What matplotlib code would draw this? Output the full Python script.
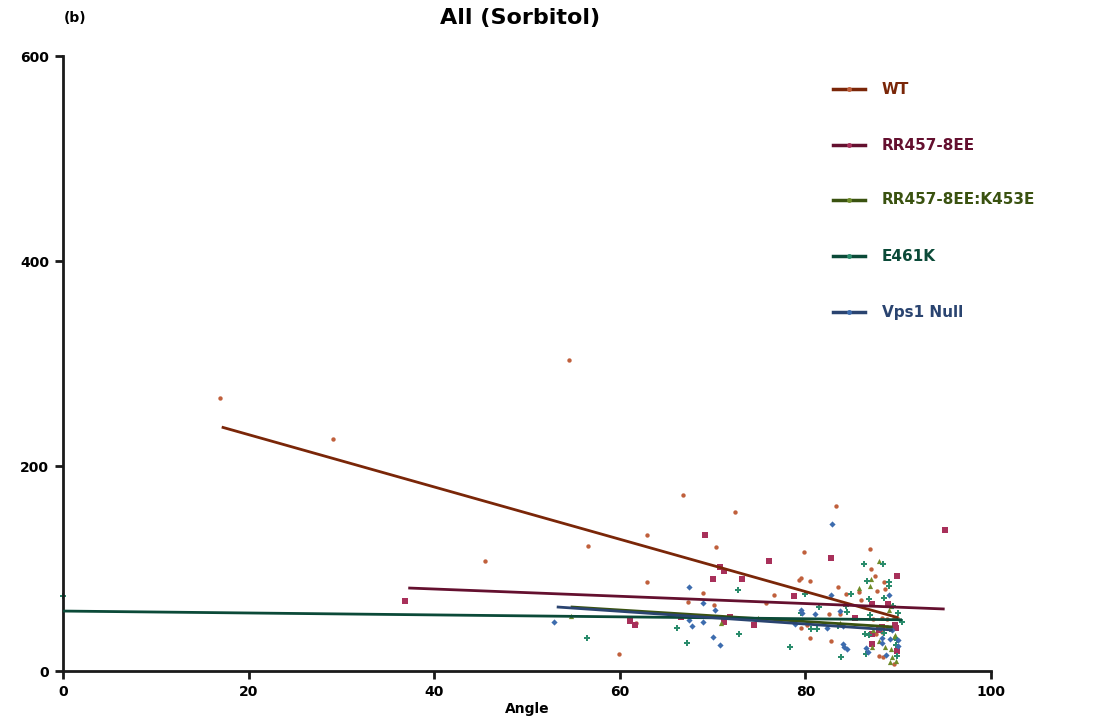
import matplotlib
matplotlib.use('Agg')
import matplotlib.pyplot as plt
from matplotlib.lines import Line2D

plt.rcParams['font.family'] = ['DejaVu Sans']

# ── groups ───────────────────────────────────────────────
labels = ['WT', 'RR457-8EE', 'RR457-8EE:K453E', 'E461K', 'Vps1 Null']
line_colors = ['#7a2608', '#64102f', '#3a5210', '#0b4a38', '#2a4470']
point_colors = ['#c0603c', '#a8305a', '#6f8c2a', '#2a8c6c', '#3d6cae']
markers = ['o', 's', '^', 'P', 'D']
sizes = [10, 16, 14, 14, 10]

# ── scatter data (angle, value) ───────────────────────────
wt_x = [16.9, 29.1, 54.5, 45.5, 56.6, 59.9, 62.9, 62.9, 66.8, 72.4, 83.3, 70.4,
        79.8, 87.0, 87.1, 87.5, 79.3, 79.5, 80.5, 83.5, 88.5, 88.6, 87.7, 69.0,
        76.6, 67.3, 70.2, 75.7, 84.4, 85.8, 86.0, 82.5, 83.7, 75.3, 61.7, 79.5,
        80.2, 80.5, 82.7, 87.3, 88.2, 88.8, 89.5, 89.9, 88.2, 88.8, 87.9, 88.4,
        89.5, 87.6]
wt_y = [266, 226, 303, 107, 122, 17, 133, 87, 172, 155, 161, 121,
        116, 119, 100, 93, 89, 91, 88, 82, 87, 80, 78, 76,
        74, 67, 64, 66, 75, 77, 69, 56, 56, 51, 47, 42,
        45, 32, 29, 51, 52, 51, 52, 52, 38, 43, 15, 14,
        7, 36]

rr_x = [95.0, 36.9, 69.2, 76.1, 82.8, 70.8, 71.2, 70.0, 73.2, 78.8, 89.9, 87.2,
        88.9, 85.3, 66.6, 61.1, 61.6, 71.2, 71.9, 74.5, 87.2, 87.2, 89.9, 89.7,
        89.8, 87.9, 88.3]
rr_y = [138, 68, 133, 107, 110, 101, 98, 90, 90, 73, 93, 65,
        65, 52, 53, 49, 45, 48, 53, 45, 36, 26, 20, 45,
        42, 40, 43]

rrk_x = [87.9, 87.1, 85.8, 87.0, 54.7, 70.9, 74.9, 83.7, 89.0, 89.2, 87.3, 89.7,
         87.2, 87.9, 88.6, 89.2, 89.3, 89.1, 89.8, 89.5]
rrk_y = [107, 90, 81, 83, 54, 47, 52, 47, 60, 63, 40, 35,
         23, 29, 23, 21, 14, 9, 10, 33]

e461k_x = [0.0, 56.5, 66.2, 67.2, 72.7, 72.8, 78.3, 80.0, 79.5, 81.5, 80.6, 81.2,
           86.3, 88.4, 86.6, 89.0, 89.0, 84.9, 86.9, 88.5, 89.4, 84.4, 84.5, 90.0,
           87.0, 90.4, 86.4, 86.9, 88.5, 89.9, 89.8, 86.5, 83.8, 89.9, 83.5, 89.1]
e461k_y = [73, 32, 42, 27, 79, 36, 23, 75, 57, 62, 41, 41,
           104, 104, 88, 87, 83, 75, 70, 71, 63, 63, 58, 57,
           55, 48, 36, 35, 37, 30, 25, 17, 14, 15, 44, 41]

vps_x = [52.9, 67.5, 69.0, 70.3, 67.4, 67.8, 69.0, 70.0, 70.8, 82.9, 79.5, 79.6,
         81.0, 78.9, 82.3, 82.7, 83.7, 84.0, 84.0, 84.2, 84.5, 86.5, 86.7, 89.0,
         88.3, 88.3, 89.1, 90.0, 90.0, 88.7, 89.3, 88.0]
vps_y = [48, 82, 66, 60, 50, 44, 48, 33, 25, 143, 60, 57,
         56, 46, 42, 74, 59, 44, 26, 23, 21, 22, 19, 74,
         32, 27, 31, 30, 24, 16, 40, 42]

xs = [wt_x, rr_x, rrk_x, e461k_x, vps_x]
ys = [wt_y, rr_y, rrk_y, e461k_y, vps_y]

# ── fitted regression lines (start/end) ───────────────────
fit_x = [[17.1, 90.0], [37.2, 95.0], [54.7, 89.4], [0.0, 90.4], [53.2, 89.4]]
fit_y = [[238, 52], [81, 60.5], [62.5, 43], [58.5, 50], [62.5, 40]]

fig = plt.figure(figsize=(10.94, 7.23), dpi=100)
ax = fig.add_axes([0.0576, 0.0719, 0.8483, 0.8506])

for i in range(len(labels)):
    ax.scatter(xs[i], ys[i], s=sizes[i], marker=markers[i], color=point_colors[i],
               linewidths=0, zorder=2, clip_on=False)
for i in range(len(labels)):
    ax.plot(fit_x[i], fit_y[i], color=line_colors[i], linewidth=2, zorder=3,
            solid_capstyle='butt')

ax.set_xlim(0, 100)
ax.set_ylim(0, 600)
ax.set_xticks([0, 20, 40, 60, 80, 100])
ax.set_yticks([0, 200, 400, 600])
for s in ['top', 'right']:
    ax.spines[s].set_visible(False)
for s in ['left', 'bottom']:
    ax.spines[s].set_linewidth(2)
    ax.spines[s].set_color('#1a1a1a')
ax.tick_params(direction='out', length=6, width=2, color='#1a1a1a',
               labelsize=10, pad=4)
for lab in ax.get_xticklabels() + ax.get_yticklabels():
    lab.set_fontweight('bold')

ax.set_xlabel('Angle', fontsize=10, fontweight='bold', labelpad=2)
fig.text(0.475, 0.975, 'All (Sorbitol)', fontsize=16, fontweight='bold',
         ha='center', va='center')
fig.text(0.058, 0.975, '(b)', fontsize=10, fontweight='bold', ha='left', va='center')

# ── legend drawn in figure coordinates ────────────────────
leg_y = [89, 145, 200, 256, 312]
for i, lab in enumerate(labels):
    yf = 1 - leg_y[i] / 723
    fig.add_artist(Line2D([833 / 1094, 865 / 1094], [yf, yf], color=line_colors[i],
                          linewidth=2.5, transform=fig.transFigure))
    fig.add_artist(Line2D([849 / 1094], [yf], marker='o', markersize=2.5,
                          color=point_colors[i], transform=fig.transFigure))
    fig.text(882 / 1094, yf, lab, color=line_colors[i], fontsize=11,
             fontweight='bold', ha='left', va='center')

fig.savefig('out.png', dpi=100)
